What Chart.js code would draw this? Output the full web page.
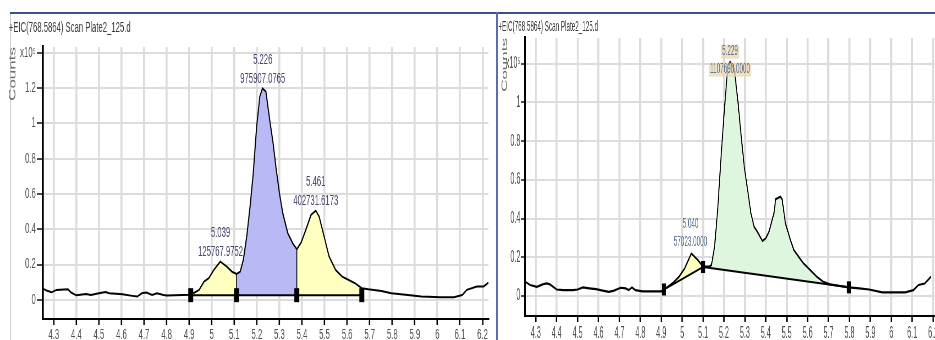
<!DOCTYPE html>
<html><head><meta charset="utf-8">
<script src="https://cdn.jsdelivr.net/npm/chart.js@4.4.1/dist/chart.umd.min.js"></script>
<style>
html,body{margin:0;padding:0;background:#fff;overflow:hidden;width:935px;height:340px;}
#wrap{position:relative;width:935px;height:340px;overflow:hidden;background:#fff;}
.bl{position:absolute;}
canvas{position:absolute;top:0;transform-origin:0 0;}
</style></head>
<body><div id="wrap">
<div class="bl" style="left:10px;top:12px;width:487px;height:2px;background:#3d508a"></div>
<div class="bl" style="left:10px;top:14px;width:1px;height:326px;background:#d0d0d0"></div>
<div class="bl" style="left:497px;top:12px;width:438px;height:2px;background:#3d508a"></div>
<div class="bl" style="left:496px;top:12px;width:2px;height:328px;background:#5a6fb0"></div>
<canvas id="c1" width="904" height="340" style="left:0px;width:904px;height:340px;transform:scaleX(0.55)"></canvas>
<canvas id="c2" width="998" height="340" style="left:497px;width:998px;height:340px;transform:scaleX(0.45)"></canvas>
</div>
<script>
// ---------- data ----------
const chartTitle = '+EIC(768.5864) Scan Plate2_125.d';
const yAxisTitle = 'Counts';
const xTickValues = [4.3,4.4,4.5,4.6,4.7,4.8,4.9,5.0,5.1,5.2,5.3,5.4,5.5,5.6,5.7,5.8,5.9,6.0,6.1,6.2];
const xTickLabels = ['4.3','4.4','4.5','4.6','4.7','4.8','4.9','5','5.1','5.2','5.3','5.4','5.5','5.6','5.7','5.8','5.9','6','6.1','6.2'];
const yTickValuesL = [0,0.2,0.4,0.6,0.8,1,1.2,1.4];
const yTickLabelsL = ['0','0.2','0.4','0.6','0.8','1','1.2','x10\u2075'];
const yTickValuesR = [0,0.2,0.4,0.6,0.8,1,1.2];
const yTickLabelsR = ['0','0.2','0.4','0.6','0.8','1','x10\u2075'];

// left chromatogram (x = acquisition time, min; y = counts x10^5)
const leftRT = [4.25,4.268,4.29,4.312,4.363,4.377,4.40,4.443,4.465,4.50,4.53,4.546,4.604,4.648,4.67,4.69,4.71,4.736,4.757,4.787,4.80,
  4.907,4.944,4.966,4.987,5.009,5.038,5.067,5.09,5.11,5.126,5.14,5.155,5.17,5.184,5.199,5.213,5.225,5.24,5.257,5.272,5.286,5.30,5.315,5.337,5.359,
  5.377,5.396,5.417,5.44,5.461,5.476,5.498,5.52,5.549,5.578,5.607,5.636,5.665,5.694,5.752,5.796,5.869,5.928,6.015,6.073,6.11,6.13,6.175,6.205,6.226];
const leftCounts = [0.066,0.053,0.043,0.057,0.060,0.042,0.026,0.034,0.028,0.038,0.045,0.038,0.032,0.023,0.019,0.038,0.042,0.028,0.038,0.028,0.025,
  0.030,0.057,0.104,0.123,0.170,0.217,0.189,0.160,0.147,0.160,0.227,0.359,0.529,0.718,0.982,1.152,1.199,1.180,1.020,0.888,0.737,0.604,0.491,0.378,0.321,
  0.287,0.325,0.397,0.482,0.506,0.472,0.359,0.246,0.170,0.132,0.113,0.094,0.066,0.060,0.051,0.038,0.028,0.019,0.015,0.015,0.028,0.057,0.076,0.076,0.098];
const leftSplits = [4.907,5.11,5.377,5.665];
const leftBaseline = 0.027;
const leftPeakRT = ['5.039','5.226','5.461'];
const leftPeakArea = ['125767.9752','975907.0765','402731.6173'];
const leftPeakTop = [0.217,1.199,0.506];

// right chromatogram
const rightRT = [4.25,4.273,4.305,4.336,4.352,4.368,4.40,4.43,4.478,4.50,4.525,4.556,4.588,4.62,4.65,4.674,4.706,4.73,4.745,4.76,4.776,4.81,4.90,
  4.913,4.957,4.985,5.012,5.044,5.075,5.10,5.13,5.14,5.155,5.171,5.187,5.203,5.218,5.229,5.25,5.266,5.281,5.297,5.313,5.329,5.344,5.36,5.384,5.40,
  5.415,5.439,5.447,5.47,5.478,5.494,5.518,5.534,5.557,5.58,5.612,5.644,5.675,5.707,5.754,5.797,5.847,5.894,5.957,6.02,6.067,6.106,6.13,6.16,6.19];
const rightCounts = [0.074,0.057,0.048,0.062,0.065,0.060,0.034,0.031,0.031,0.034,0.045,0.040,0.036,0.028,0.022,0.028,0.043,0.040,0.031,0.045,0.031,0.024,0.024,
  0.034,0.069,0.100,0.143,0.220,0.186,0.152,0.152,0.160,0.255,0.462,0.737,0.978,1.185,1.211,1.168,1.013,0.841,0.668,0.548,0.427,0.358,0.332,0.284,0.298,
  0.332,0.427,0.500,0.513,0.500,0.375,0.289,0.238,0.203,0.169,0.134,0.100,0.074,0.060,0.052,0.045,0.040,0.034,0.019,0.019,0.019,0.031,0.057,0.065,0.100];
const rightBaseX = [4.913,5.10,5.797];
const rightBaseY = [0.034,0.150,0.045];
const rightPeakRT = ['5.040','5.229'];
const rightPeakArea = ['57023.0000','1107690.0000'];
const rightPeakTop = [0.220,1.211];

// ---------- helpers ----------
const KL = 0.55, KR = 0.45;
const FAM = "'Liberation Sans', Arial, sans-serif";
const pts = (xs, ys) => xs.map((x, i) => ({x, y: ys[i]}));
const seg = (xs, ys, a, b) => pts(xs, ys).filter(p => p.x >= a - 1e-9 && p.x <= b + 1e-9);
const yAt = (xs, ys, x) => ys[xs.indexOf(x)];
const fix = (w, h) => (s) => { if (w != null) s.width = w; if (h != null) s.height = h;
  s.paddingLeft = 0; s.paddingRight = 0; s.paddingTop = 0; s.paddingBottom = 0; };

const peakLabels = {
  id: 'peakLabels',
  afterDatasetsDraw(chart, args, opts) {
    const {ctx} = chart; const x = chart.scales.x, y = chart.scales.y;
    ctx.save();
    ctx.font = opts.font; ctx.textAlign = 'center'; ctx.textBaseline = 'middle';
    opts.items.forEach(it => {
      const px = x.getPixelForValue(parseFloat(it.rt)), py = y.getPixelForValue(it.top);
      [[it.rt, it.dy[0]], [it.area, it.dy[1]]].forEach(([t, dy]) => {
        if (it.bg) { const w = ctx.measureText(t).width; ctx.fillStyle = it.bg; ctx.fillRect(px - w / 2 - 3, py + dy - 7, w + 6, 14); }
        ctx.fillStyle = opts.color; ctx.fillText(t, px, py + dy);
      });
    });
    ctx.restore();
  }
};
const titleText = {
  id: 'titleText',
  afterDraw(chart, args, opts) {
    const {ctx} = chart; ctx.save();
    ctx.font = opts.font; ctx.fillStyle = opts.color; ctx.textAlign = 'left'; ctx.textBaseline = 'middle';
    ctx.fillText(opts.text, opts.x, opts.y); ctx.restore();
  }
};

function makeScales(k, xmin, xmax, ymin, ymax, yVals, yLabels, yW, xH, tickFs, yTickLen, titlePad) {
  return {
    x: { type: 'linear', min: xmin, max: xmax,
      afterBuildTicks: a => { a.ticks = xTickValues.map(v => ({value: v})); },
      afterFit: fix(null, xH),
      ticks: { callback: v => xTickLabels[xTickValues.indexOf(v)], font: {family: FAM, size: tickFs}, color: '#505050',
               padding: 2, maxRotation: 0, minRotation: 0, autoSkip: false },
      grid: { color: '#dcdcdc', lineWidth: 2 / k, tickLength: 6, tickColor: '#000', tickWidth: 1.4 / k, drawTicks: true },
      border: { display: true, color: '#000', width: 2 } },
    y: { type: 'linear', min: ymin, max: ymax,
      afterBuildTicks: a => { a.ticks = yVals.map(v => ({value: v})); },
      afterFit: fix(yW, null),
      ticks: { callback: v => yLabels[yVals.indexOf(v)], font: {family: FAM, size: tickFs}, color: '#505050', padding: 2, autoSkip: false },
      grid: { color: '#dcdcdc', lineWidth: 2, tickLength: yTickLen, tickColor: '#000', tickWidth: 1.4, drawTicks: true },
      border: { display: true, color: '#000', width: 2 / k },
      title: { display: true, text: yAxisTitle, align: 'end', color: '#6a6a6a', font: {family: FAM, size: 17}, padding: {top: titlePad, bottom: 0} } }
  };
}
const baseOpts = { responsive: false, animation: false, devicePixelRatio: 1, events: [] };

// ---------- left chart ----------
const L = leftSplits;
const leftRegionColors = ['#ffffc0', '#b9b9f6', '#ffffc0'];
const leftDatasets = [
  { data: pts(leftRT, leftCounts), borderColor: '#000', borderWidth: 2, pointRadius: 0, tension: 0, order: 1, fill: false },
  ...[0, 1, 2].map(i => ({ data: seg(leftRT, leftCounts, L[i], L[i + 1]), borderWidth: 0, borderColor: 'rgba(0,0,0,0)',
      backgroundColor: leftRegionColors[i], pointRadius: 0, tension: 0, order: 5, fill: {value: leftBaseline} })),
  { data: [{x: L[0], y: leftBaseline}, {x: L[3], y: leftBaseline}], borderColor: '#000', borderWidth: 2, pointRadius: 0, order: 2, fill: false },
  ...[1, 2].map(i => ({ data: [{x: L[i], y: leftBaseline}, {x: L[i], y: yAt(leftRT, leftCounts, L[i])}],
      borderColor: '#000', borderWidth: 1.6, pointRadius: 0, order: 2, fill: false })),
  { data: L.map(x => ({x, y: leftBaseline})), showLine: false, pointStyle: 'line', rotation: 90, pointRadius: 7,
    pointBorderWidth: 9, pointBorderColor: '#000', pointBackgroundColor: '#000', order: 0 }
];
new Chart(document.getElementById('c1'), {
  type: 'line',
  data: { datasets: leftDatasets },
  options: { ...baseOpts,
    layout: { padding: { top: 47, right: 2, left: 0, bottom: 0 } },
    plugins: { legend: {display: false}, tooltip: {enabled: false},
      titleText: { text: chartTitle, x: 16, y: 28, font: `14px ${FAM}`, color: '#3a3a3a' },
      peakLabels: { font: `14px ${FAM}`, color: '#46466e',
        items: leftPeakRT.map((rt, i) => ({ rt, area: leftPeakArea[i], top: leftPeakTop[i], dy: [-28, -9] })) } },
    scales: makeScales(KL, 4.252, 6.226, -0.108, 1.433, yTickValuesL, yTickLabelsL, 78, 21, 14, 11, 13)
  },
  plugins: [peakLabels, titleText]
});

// ---------- right chart ----------
const B = rightBaseX;
const rightDatasets = [
  { data: pts(rightRT, rightCounts), borderColor: '#000', borderWidth: 2.2, pointRadius: 0, tension: 0, order: 1, fill: false },
  { data: [{x: B[0], y: rightBaseY[0]}, {x: B[1], y: rightBaseY[1]}], borderColor: '#000', borderWidth: 2, pointRadius: 0, order: 2, fill: false },
  { data: [{x: B[1], y: rightBaseY[1]}, {x: B[2], y: rightBaseY[2]}], borderColor: '#000', borderWidth: 2, pointRadius: 0, order: 2, fill: false },
  { data: seg(rightRT, rightCounts, B[0], B[1]), borderWidth: 0, borderColor: 'rgba(0,0,0,0)', backgroundColor: '#ffffc0',
    pointRadius: 0, tension: 0, order: 5, fill: 1 },
  { data: seg(rightRT, rightCounts, B[1], B[2]), borderWidth: 0, borderColor: 'rgba(0,0,0,0)', backgroundColor: '#ddf6dd',
    pointRadius: 0, tension: 0, order: 5, fill: 2 },
  { data: B.map((x, i) => ({x, y: rightBaseY[i]})), showLine: false, pointStyle: 'line', rotation: 90, pointRadius: 6,
    pointBorderWidth: 9, pointBorderColor: '#000', pointBackgroundColor: '#000', order: 0 }
];
const rightLabelOffsets = [[-29, -11], [-10, 8]];
const rightLabelBg = [null, 'rgba(236,214,176,0.75)'];
new Chart(document.getElementById('c2'), {
  type: 'line',
  data: { datasets: rightDatasets },
  options: { ...baseOpts,
    layout: { padding: { top: 38, right: 2, left: 0, bottom: 0 } },
    plugins: { legend: {display: false}, tooltip: {enabled: false},
      titleText: { text: chartTitle, x: 3, y: 27, font: `14px ${FAM}`, color: '#3a3a3a' },
      peakLabels: { font: `14px ${FAM}`, color: '#5d7595',
        items: rightPeakRT.map((rt, i) => ({ rt, area: rightPeakArea[i], top: rightPeakTop[i], dy: rightLabelOffsets[i], bg: rightLabelBg[i] })) } },
    scales: makeScales(KR, 4.248, 6.23, -0.103, 1.333, yTickValuesR, yTickLabelsR, 62, 24, 16, 8, 7)
  },
  plugins: [peakLabels, titleText]
});
</script>
</body></html>
